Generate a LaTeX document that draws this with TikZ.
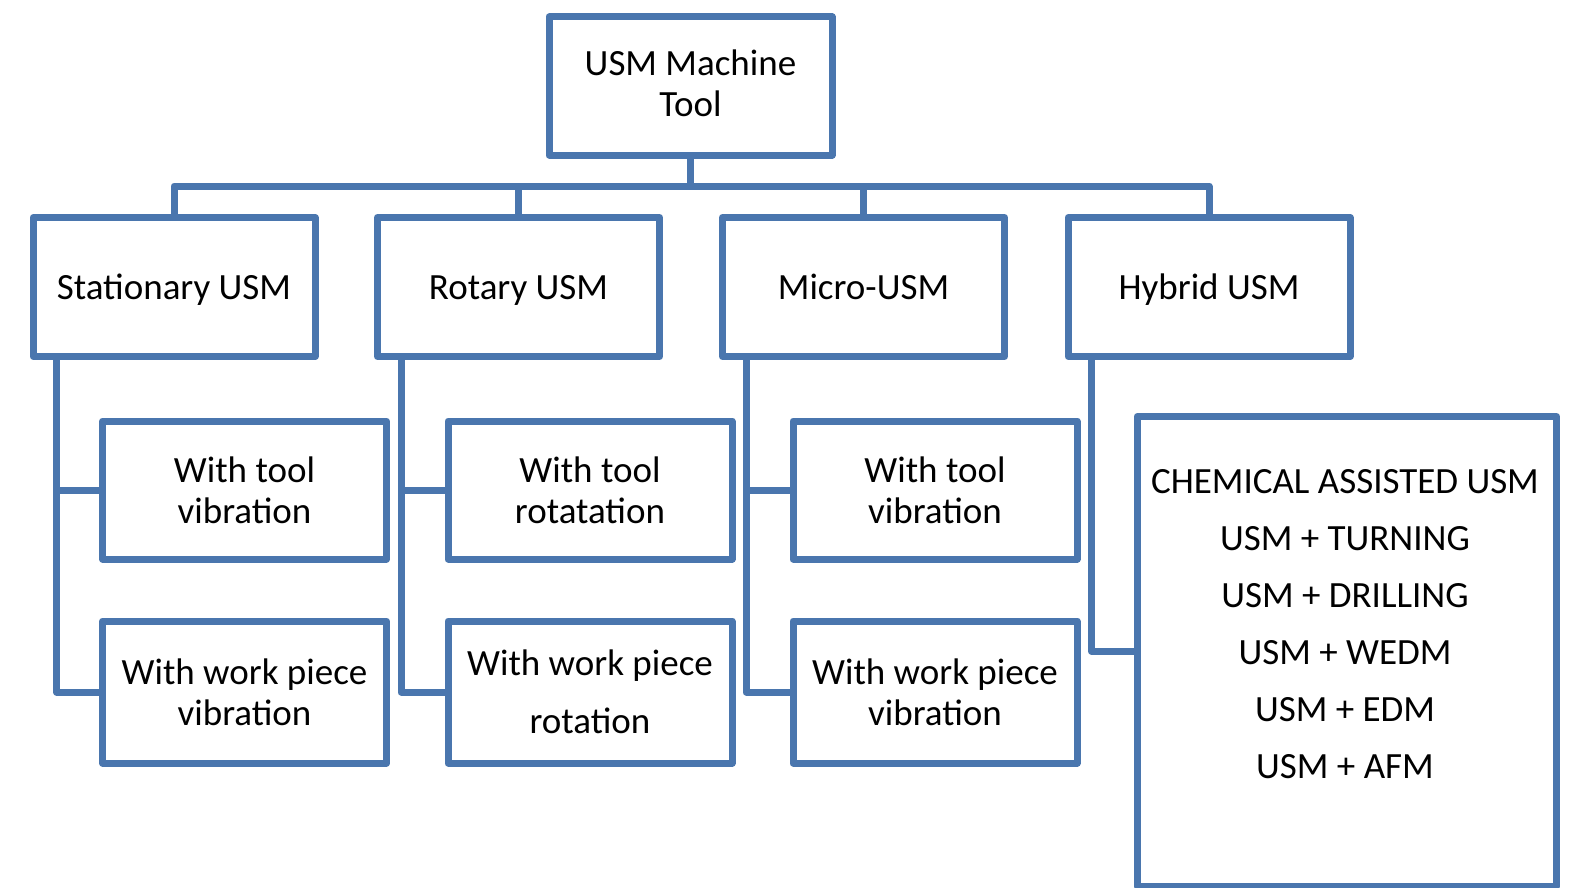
\documentclass[tikz,border=0pt]{standalone}
\usepackage{fontspec}
\setmainfont{Carlito}
\definecolor{usmblue}{HTML}{4A76AE}
\begin{document}
\begin{tikzpicture}[x=1pt,y=-1pt,
  box/.style={draw=usmblue,line width=7pt,line join=round,fill=white,inner sep=0pt,
    align=center,font=\fontsize{37}{41}\selectfont},
  lvl/.style={box,minimum width=282pt,minimum height=139pt,text height=29pt,text depth=4pt},
  conn/.style={draw=usmblue,line width=7pt,line join=round}]
\useasboundingbox (0,0) rectangle (1576,888);
% root
\node[box,minimum width=283pt,minimum height=138pt] (top) at (690.5,86) {};
\node[align=center,inner sep=0pt,font=\fontsize{37}{41}\selectfont] (topt) at (690.5,83.5) {USM Machine\\Tool};
% level 2
\node[lvl] (s1) at (174,287) {Stationary USM};
\node[lvl] (s2) at (518.5,287) {Rotary USM};
\node[lvl] (s3) at (863.5,287) {Micro-USM};
\node[lvl] (s4) at (1209,287) {Hybrid USM};
% children
\node[box,minimum width=284pt,minimum height=138pt] (a1) at (244.5,490) {With tool\\vibration};
\node[box,minimum width=284pt,minimum height=142pt] (a2) at (244.5,692) {With work piece\\vibration};
\node[box,minimum width=284pt,minimum height=138pt] (b1) at (590,490) {With tool\\rotatation};
\node[box,minimum width=284pt,minimum height=142pt,font=\fontsize{37}{58}\selectfont] (b2) at (590,692) {With work piece\\rotation};
\node[box,minimum width=284pt,minimum height=138pt] (c1) at (935,490) {With tool\\vibration};
\node[box,minimum width=284pt,minimum height=142pt] (c2) at (935,692) {With work piece\\vibration};
\node[box,minimum width=419.5pt,minimum height=469.5pt] (h) at (1346.75,651.25) {};
\node[align=center,inner sep=0pt,font=\fontsize{37}{57}\selectfont] (ht) at (1345,624)
  {CHEMICAL ASSISTED USM\\USM + TURNING\\USM + DRILLING\\USM + WEDM\\USM + EDM\\USM + AFM};
% bar
\coordinate (bar) at (0,186);
\draw[conn] (top.south) -- (top.south |- bar);
\draw[conn] (s1.north) -- (s1.north |- bar) -- (s4.north |- bar) -- (s4.north);
\draw[conn] (s2.north) -- (s2.north |- bar);
\draw[conn] (s3.north) -- (s3.north |- bar);
% child connectors
\draw[conn] ([xshift=27pt]s1.south west) |- (a2.west);
\draw[conn] ([xshift=27pt]s1.south west |- a1.west) -- (a1.west);
\draw[conn] ([xshift=27pt]s2.south west) |- (b2.west);
\draw[conn] ([xshift=27pt]s2.south west |- b1.west) -- (b1.west);
\draw[conn] ([xshift=27pt]s3.south west) |- (c2.west);
\draw[conn] ([xshift=27pt]s3.south west |- c1.west) -- (c1.west);
\draw[conn] ([xshift=27pt]s4.south west) |- (h.west);
\end{tikzpicture}
\end{document}
